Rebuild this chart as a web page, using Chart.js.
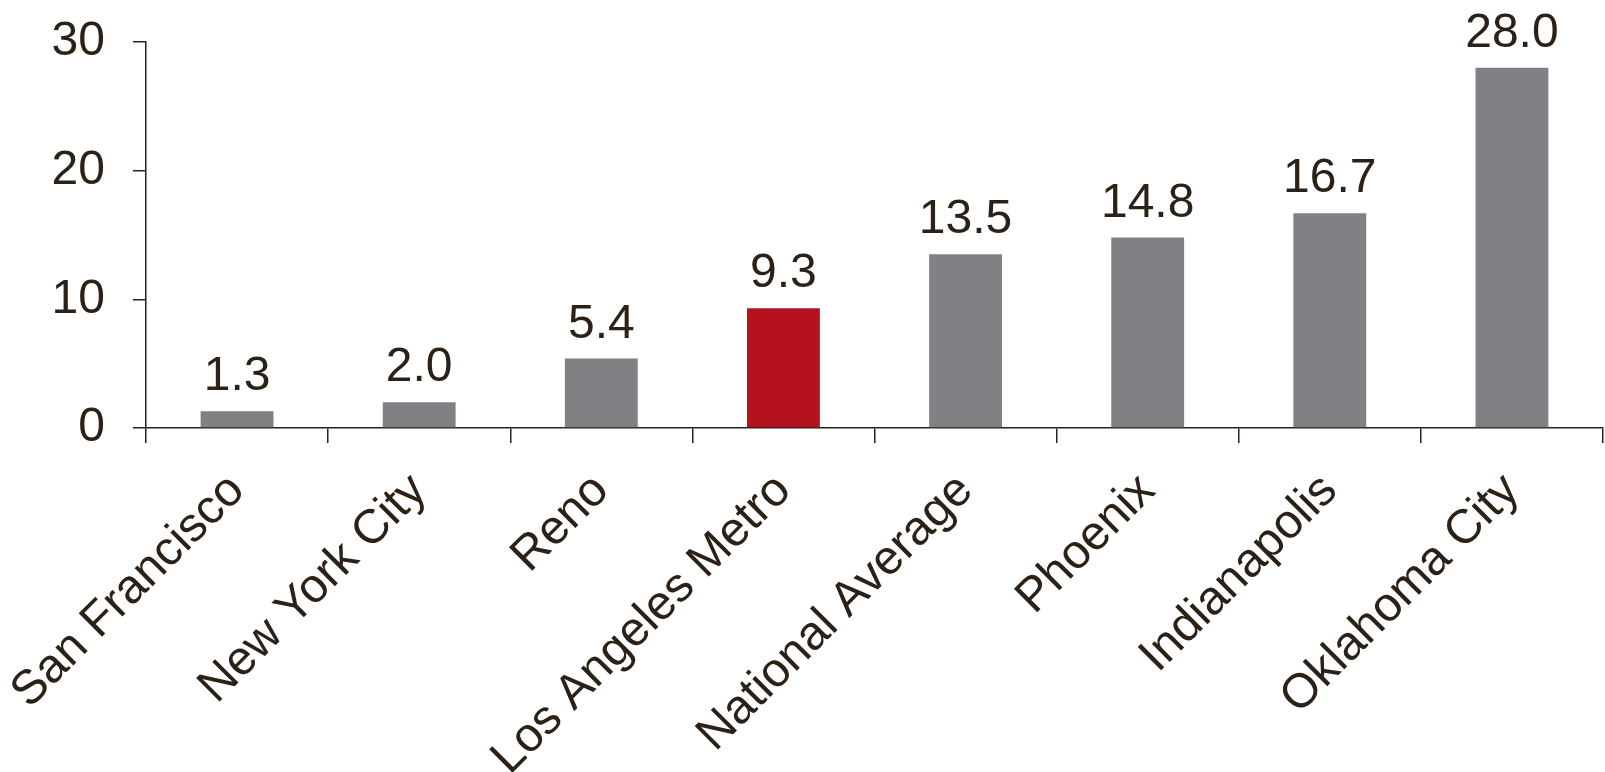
<!DOCTYPE html>
<html>
<head>
<meta charset="utf-8">
<script src="https://cdn.jsdelivr.net/npm/chart.js@4.4.1/dist/chart.umd.min.js"></script>
<style>
  html, body { margin: 0; padding: 0; background: #ffffff; }
  #wrap { width: 1605px; height: 772px; }
</style>
</head>
<body>
<div id="wrap"><canvas id="c" width="1605" height="772"></canvas></div>
<script>
const categories = ["San Francisco", "New York City", "Reno", "Los Angeles Metro", "National Average", "Phoenix", "Indianapolis", "Oklahoma City"];
const values = [1.3, 2.0, 5.4, 9.3, 13.5, 14.8, 16.7, 28.0];
const highlightCategory = "Los Angeles Metro";
const yTicks = [0, 10, 20, 30];

const TEXT = "#2b2117";
const GRAY = "#808184";
const RED = "#b3121e";
const FONT = "'Liberation Sans', Arial, sans-serif";

const barColors = categories.map(c => c === highlightCategory ? RED : GRAY);

const valueLabels = {
  id: 'valueLabels',
  afterDatasetsDraw(chart) {
    const ctx = chart.ctx;
    const meta = chart.getDatasetMeta(0);
    ctx.save();
    ctx.fillStyle = TEXT;
    ctx.font = "48px " + FONT;
    ctx.textAlign = 'center';
    ctx.textBaseline = 'alphabetic';
    meta.data.forEach((bar, i) => {
      ctx.fillText(values[i].toFixed(1), bar.x, bar.y - 21);
    });
    ctx.restore();
  }
};

new Chart(document.getElementById('c'), {
  type: 'bar',
  data: {
    labels: categories,
    datasets: [{
      data: values,
      backgroundColor: barColors,
      borderWidth: 0,
      barPercentage: 0.4,
      categoryPercentage: 1.0
    }]
  },
  options: {
    responsive: false,
    animation: false,
    devicePixelRatio: 1,
    layout: { padding: { top: 42, right: 2, left: 0, bottom: 0 } },
    plugins: { legend: { display: false }, tooltip: { enabled: false } },
    scales: {
      x: {
        grid: { display: true, offset: true, drawOnChartArea: false, drawTicks: true, tickLength: 15, color: TEXT, lineWidth: 1.5 },
        border: { display: true, color: TEXT, width: 1.5 },
        ticks: {
          color: TEXT,
          font: { family: FONT, size: 48, lineHeight: '3px' },
          minRotation: 45, maxRotation: 45, autoSkip: false, padding: 39
        },
        afterFit(scale) { scale.height = 344; scale.paddingLeft = 0; scale.paddingRight = 0; }
      },
      y: {
        min: 0, max: 30,
        afterBuildTicks(scale) { scale.ticks = yTicks.map(v => ({ value: v })); },
        grid: { display: true, drawOnChartArea: false, drawTicks: true, tickLength: 13, color: TEXT, lineWidth: 1.5 },
        border: { display: true, color: TEXT, width: 1.5 },
        ticks: { color: TEXT, font: { family: FONT, size: 48 }, padding: 28 },
        afterFit(scale) { scale.width = 146; scale.paddingTop = 0; scale.paddingBottom = 0; }
      }
    }
  },
  plugins: [valueLabels]
});
</script>
</body>
</html>
